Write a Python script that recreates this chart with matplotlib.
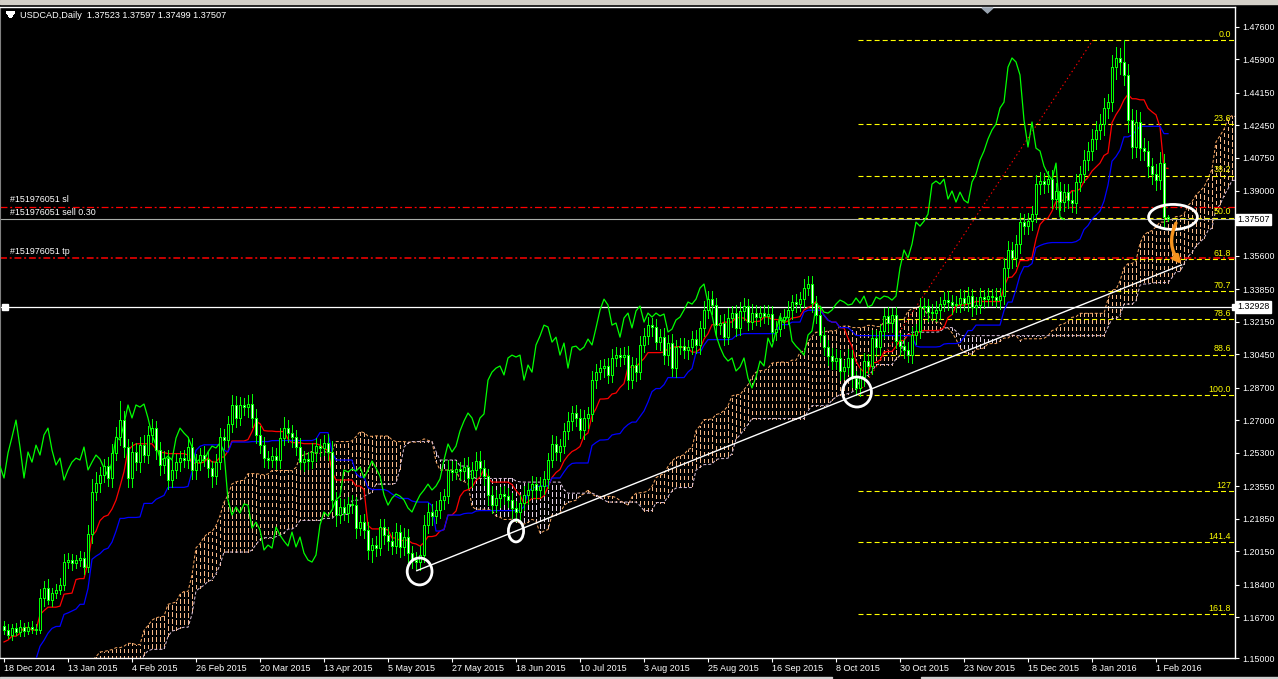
import numpy as np
import pandas as pd
import matplotlib
matplotlib.use("Agg")
import matplotlib.pyplot as plt
from matplotlib.patches import Ellipse, FancyArrowPatch, Polygon, Rectangle

plt.rcParams['font.family'] = ['Liberation Sans', 'DejaVu Sans']
plt.rcParams['lines.scale_dashes'] = False

# ---- daily closes, 18 Dec 2014 .. 3 Feb 2016 ----
close = [
    1.1602, 1.1576, 1.1613, 1.1592, 1.1618, 1.1597, 1.1618, 1.1607, 1.1602, 1.1770, 1.1822, 1.1759, 1.1796, 1.1812, 1.1838, 1.1958,
    1.1969, 1.1953, 1.1969, 1.1979, 1.1932, 1.2105, 1.2324, 1.2372, 1.2413, 1.2460, 1.2398, 1.2529, 1.2612, 1.2701, 1.2560, 1.2398,
    1.2534, 1.2481, 1.2570, 1.2518, 1.2623, 1.2659, 1.2544, 1.2466, 1.2502, 1.2387, 1.2440, 1.2481, 1.2502, 1.2492, 1.2560, 1.2440,
    1.2481, 1.2518, 1.2497, 1.2450, 1.2408, 1.2481, 1.2612, 1.2597, 1.2680, 1.2780, 1.2712, 1.2780, 1.2769, 1.2785, 1.2712, 1.2623,
    1.2570, 1.2502, 1.2492, 1.2513, 1.2492, 1.2607, 1.2659, 1.2633, 1.2612, 1.2560, 1.2481, 1.2497, 1.2487, 1.2534, 1.2565, 1.2555,
    1.2581, 1.2534, 1.2283, 1.2204, 1.2246, 1.2215, 1.2262, 1.2256, 1.2136, 1.2167, 1.2126, 1.2021, 1.2047, 1.2031, 1.2141, 1.2099,
    1.2068, 1.2042, 1.2115, 1.2037, 1.2089, 1.2005, 1.1969, 1.1958, 1.1995, 1.2152, 1.2220, 1.2199, 1.2230, 1.2283, 1.2303, 1.2440,
    1.2429, 1.2445, 1.2434, 1.2455, 1.2398, 1.2440, 1.2487, 1.2450, 1.2408, 1.2309, 1.2256, 1.2293, 1.2314, 1.2303, 1.2283, 1.2241,
    1.2220, 1.2267, 1.2309, 1.2335, 1.2366, 1.2335, 1.2356, 1.2393, 1.2492, 1.2576, 1.2534, 1.2565, 1.2644, 1.2696, 1.2738, 1.2712,
    1.2649, 1.2712, 1.2733, 1.2910, 1.2952, 1.2973, 1.2984, 1.2937, 1.3026, 1.3041, 1.3031, 1.3041, 1.2910, 1.2989, 1.2952, 1.3094,
    1.3141, 1.3198, 1.3188, 1.3109, 1.3135, 1.3041, 1.3104, 1.2973, 1.3083, 1.3088, 1.3067, 1.3083, 1.3125, 1.3094, 1.3183, 1.3277,
    1.3334, 1.3303, 1.3198, 1.3209, 1.3135, 1.3235, 1.3261, 1.3183, 1.3272, 1.3298, 1.3214, 1.3261, 1.3240, 1.3261, 1.3246, 1.3256,
    1.3162, 1.3177, 1.3225, 1.3240, 1.3277, 1.3319, 1.3308, 1.3334, 1.3392, 1.3413, 1.3313, 1.3251, 1.3146, 1.3083, 1.3036, 1.3010,
    1.3026, 1.2958, 1.2979, 1.3026, 1.2921, 1.2869, 1.2926, 1.3010, 1.2984, 1.3130, 1.3083, 1.3167, 1.3246, 1.3209, 1.3251, 1.3115,
    1.3088, 1.3067, 1.3041, 1.3146, 1.3167, 1.3293, 1.3298, 1.3266, 1.3261, 1.3277, 1.3308, 1.3329, 1.3319, 1.3303, 1.3308, 1.3340,
    1.3313, 1.3350, 1.3293, 1.3303, 1.3345, 1.3334, 1.3350, 1.3345, 1.3329, 1.3350, 1.3497, 1.3591, 1.3549, 1.3622, 1.3737, 1.3716,
    1.3742, 1.3779, 1.3936, 1.3952, 1.3936, 1.3962, 1.3858, 1.3900, 1.3842, 1.3894, 1.3852, 1.3837, 1.3947, 1.3988, 1.4062, 1.4109,
    1.4172, 1.4219, 1.4250, 1.4334, 1.4365, 1.4548, 1.4596, 1.4575, 1.4507, 1.4271, 1.4130, 1.4261, 1.4124, 1.4109, 1.4030, 1.3988,
    1.3957, 1.4046, 1.3765, 1.37507,
]
first_open = 1.1625

# wick lengths in pips above / below the body
upper_wick = [
    25, 30, 20, 25, 35, 20, 25, 30, 25, 45, 35, 50, 25, 30, 35, 40,
    35, 30, 25, 35, 30, 45, 70, 55, 40, 35, 50, 45, 55, 100, 45, 40,
    50, 45, 40, 55, 45, 50, 35, 40, 35, 45, 50, 40, 35, 40, 50, 45,
    40, 35, 45, 40, 35, 45, 50, 40, 45, 50, 45, 40, 35, 45, 50, 45,
    45, 40, 35, 45, 40, 50, 60, 45, 40, 35, 45, 40, 35, 45, 40, 35,
    40, 45, 55, 40, 45, 40, 35, 45, 40, 35, 45, 40, 35, 50, 40, 45,
    40, 45, 50, 35, 45, 40, 35, 40, 45, 50, 45, 40, 45, 40, 35, 50,
    45, 40, 35, 50, 55, 40, 45, 50, 40, 35, 45, 40, 35, 40, 45, 35,
    35, 40, 45, 35, 40, 35, 45, 40, 35, 45, 40, 35, 40, 45, 35, 40,
    45, 40, 35, 50, 40, 45, 35, 40, 45, 40, 35, 45, 50, 40, 35, 45,
    40, 45, 35, 40, 45, 50, 40, 45, 35, 40, 45, 35, 40, 45, 35, 45,
    45, 40, 35, 40, 45, 50, 35, 40, 45, 40, 35, 45, 40, 35, 40, 45,
    40, 45, 35, 40, 45, 35, 40, 35, 45, 44, 40, 35, 45, 40, 35, 40,
    45, 40, 35, 45, 40, 35, 45, 40, 35, 45, 40, 35, 40, 45, 35, 40,
    40, 35, 45, 40, 35, 45, 40, 35, 40, 45, 35, 40, 45, 35, 40, 45,
    40, 45, 35, 40, 45, 35, 40, 35, 45, 40, 50, 45, 40, 45, 50, 40,
    45, 40, 50, 45, 40, 45, 50, 40, 45, 40, 45, 50, 40, 45, 50, 45,
    50, 45, 55, 50, 45, 65, 55, 50, 115, 55, 60, 65, 50, 55, 50, 45,
    55, 60, 50, 9,
]
lower_wick = [
    20, 15, 25, 15, 20, 25, 15, 20, 20, 15, 40, 20, 30, 25, 20, 25,
    30, 35, 25, 30, 35, 25, 45, 40, 45, 35, 40, 45, 35, 40, 50, 45,
    45, 40, 50, 35, 40, 35, 45, 50, 40, 45, 35, 40, 45, 35, 40, 45,
    45, 40, 35, 45, 55, 40, 35, 45, 35, 40, 45, 35, 40, 50, 45, 40,
    40, 45, 40, 35, 45, 40, 35, 45, 50, 40, 35, 45, 40, 35, 45, 40,
    35, 40, 45, 55, 40, 35, 45, 40, 50, 35, 40, 45, 65, 40, 35, 45,
    45, 40, 35, 50, 40, 45, 40, 38, 40, 35, 40, 45, 35, 40, 45, 35,
    40, 35, 45, 40, 50, 45, 35, 40, 45, 50, 40, 35, 45, 40, 35, 50,
    45, 40, 35, 45, 40, 45, 35, 40, 45, 35, 40, 45, 35, 40, 45, 40,
    40, 45, 50, 35, 40, 35, 45, 40, 35, 40, 45, 35, 45, 40, 45, 35,
    35, 40, 45, 35, 40, 45, 50, 40, 45, 35, 40, 45, 35, 40, 45, 40,
    40, 45, 50, 45, 40, 35, 45, 40, 35, 45, 40, 35, 40, 45, 35, 40,
    45, 40, 35, 40, 35, 45, 40, 35, 40, 35, 45, 40, 35, 40, 45, 40,
    40, 45, 40, 35, 45, 37, 40, 45, 35, 40, 45, 40, 35, 40, 45, 35,
    45, 40, 35, 40, 45, 35, 40, 45, 35, 40, 45, 35, 40, 45, 35, 40,
    35, 40, 45, 35, 40, 45, 35, 40, 35, 45, 40, 45, 50, 40, 45, 40,
    40, 45, 40, 50, 45, 40, 45, 50, 40, 45, 40, 45, 50, 45, 40, 50,
    45, 50, 45, 55, 50, 45, 60, 65, 50, 65, 55, 50, 60, 45, 55, 50,
    50, 45, 55, 8,
]

# Oct-Dec 2014 highs / lows before the first visible bar (feed the Ichimoku)
prior_high = [
    1.1230, 1.1260, 1.1240, 1.1200, 1.1190, 1.1200, 1.1250, 1.1280, 1.1320, 1.1350, 1.1330, 1.1310, 1.1290, 1.1280,
    1.1290, 1.1260, 1.1230, 1.1220, 1.1200, 1.1230, 1.1260, 1.1290, 1.1380, 1.1430, 1.1450, 1.1466, 1.1430, 1.1370,
    1.1380, 1.1390, 1.1370, 1.1350, 1.1330, 1.1310, 1.1320, 1.1340, 1.1320, 1.1290, 1.1310, 1.1300, 1.1330, 1.1440,
    1.1450, 1.1430, 1.1470, 1.1470, 1.1450, 1.1470, 1.1500, 1.1540, 1.1540, 1.1590, 1.1630, 1.1680, 1.1640,
]
prior_low = [
    1.1170, 1.1190, 1.1160, 1.1140, 1.1110, 1.1120, 1.1170, 1.1200, 1.1250, 1.1240, 1.1250, 1.1250, 1.1220, 1.1210,
    1.1220, 1.1190, 1.1170, 1.1160, 1.1130, 1.1140, 1.1190, 1.1200, 1.1270, 1.1350, 1.1380, 1.1390, 1.1290, 1.1290,
    1.1310, 1.1320, 1.1300, 1.1280, 1.1270, 1.1250, 1.1260, 1.1270, 1.1230, 1.1220, 1.1220, 1.1220, 1.1240, 1.1300,
    1.1350, 1.1370, 1.1390, 1.1370, 1.1380, 1.1400, 1.1420, 1.1460, 1.1460, 1.1490, 1.1560, 1.1580, 1.1570,
]

date_labels = ["18 Dec 2014", "13 Jan 2015", "4 Feb 2015", "26 Feb 2015", "20 Mar 2015", "13 Apr 2015",
               "5 May 2015", "27 May 2015", "18 Jun 2015", "10 Jul 2015", "3 Aug 2015", "25 Aug 2015",
               "16 Sep 2015", "8 Oct 2015", "30 Oct 2015", "23 Nov 2015", "15 Dec 2015", "8 Jan 2016",
               "1 Feb 2016"]
price_ticks = [1.47600, 1.45900, 1.44150, 1.42450, 1.40750, 1.39000, 1.35600, 1.33850, 1.32150,
               1.30450, 1.28700, 1.27000, 1.25300, 1.23550, 1.21850, 1.20150, 1.18400, 1.16700]
bottom_tick_label = "1.15000"

fib_levels = [0.0, 23.6, 38.2, 50.0, 61.8, 70.7, 78.6, 88.6, 100.0, 127.0, 141.4, 161.8]
fib_names = ["0.0", "23.6", "38.2", "50.0", "61.8", "70.7", "78.6", "88.6", "100.0", "127", "141.4", "161.8"]
fib_low_bar, fib_high_bar, fib_end_bar = 213, 280, 272.25

sl_price, order_price, tp_price = 1.3818, 1.37507, 1.3548
hline_price = 1.32928
trend_from = (103.2, 1.1913)
trend_to = (294.4, 1.3513)
# marked spots: (bar, price, width in bars, height in price)
rings = [(103.9, 1.1909, 6.2, 0.0141), (128.0, 1.2121, 3.8, 0.0115),
         (213.25, 1.2848, 7.2, 0.0157), (292.25, 1.3764, 12.2, 0.0131)]
arrow_from = (293.3, 1.3745)
arrow_to = (294.8, 1.3507)

# ---- derived series ----
c = np.array(close)
o = np.r_[first_open, c[:-1]]
h = np.maximum(o, c) + np.array(upper_wick) / 1e4
l = np.minimum(o, c) - np.array(lower_wick) / 1e4
n = len(c)
P = len(prior_high)
x = np.arange(n)

H = pd.Series(np.r_[prior_high, h])
L = pd.Series(np.r_[prior_low, l])
tenkan = (H.rolling(9, min_periods=1).max() + L.rolling(9, min_periods=1).min()) / 2
kijun = (H.rolling(26, min_periods=1).max() + L.rolling(26, min_periods=1).min()) / 2
span_a = ((tenkan + kijun) / 2).values
span_b = ((H.rolling(52, min_periods=1).max() + L.rolling(52, min_periods=1).min()) / 2).values
span_x = np.arange(-P, n) + 26

W, Hh = 1278, 679
x_lo, x_hi = -1.0, 307.75
y_lo, y_hi = 1.14560, 1.48627

fig = plt.figure(figsize=(W / 100, Hh / 100), dpi=100, facecolor="black")
ax = fig.add_axes([0, 21 / Hh, 1235 / W, 651 / Hh])
ax.set_facecolor("black")
ax.set_xlim(x_lo, x_hi)
ax.set_ylim(y_lo, y_hi)

# cloud hatching (dotted verticals, phase aligned to the pixel grid)
on, off = 2.16, 2.16
vis = (span_x >= x_lo) & (span_x <= x_hi + 1)
for sx, a, b in zip(span_x[vis], span_a[vis], span_b[vis]):
    lo_, hi_ = min(a, b), max(a, b)
    col = "#f6b888" if a >= b else "#e2d0e2"
    ypx = ax.transData.transform((sx, lo_))[1] * 0.72
    ax.plot([sx, sx], [lo_, hi_], color=col, lw=0.5, ls=(ypx % (on + off), (on, off)),
            antialiased=False, zorder=1)
ax.plot(span_x[vis], span_a[vis], color="#f4a460", lw=0.72, ls=(0, (2.2, 1.4)), zorder=1)
ax.plot(span_x[vis], span_b[vis], color="#d8bfd8", lw=0.72, ls=(0, (2.2, 1.4)), zorder=1)

# fibonacci
fib_lo = l[fib_low_bar]
fib_hi = h[fib_high_bar]
for lev, name in zip(fib_levels, fib_names):
    p = fib_hi - lev / 100 * (fib_hi - fib_lo)
    ax.plot([fib_low_bar + 0.4, x_hi - 0.3], [p, p], color="#ffff00", lw=0.8, ls=(0, (3.6, 2.2)), zorder=2)
    ax.text(x_hi - 1.0, p + 0.0006, name, color="#ffff00", fontsize=6.4, ha="right", va="bottom", zorder=6)
ax.plot([fib_low_bar + 0.4, fib_end_bar], [fib_lo, fib_hi], color="#ff0000", lw=0.8, ls=(0, (1, 2)), zorder=2)

# order lines
ax.axhline(sl_price, color="#ff0000", lw=0.9, ls=(0, (5, 2, 1.4, 2)), zorder=2)
ax.axhline(tp_price, color="#ff0000", lw=1.1, ls=(0, (5, 2, 1.4, 2)), zorder=2)
ax.axhline(order_price, color="#a8aca8", lw=0.8, zorder=2)
ax.text(1.5, sl_price + 0.0012, "#151976051 sl", color="white", fontsize=6.4, va="bottom")
ax.text(1.5, order_price + 0.0012, "#151976051 sell 0.30", color="white", fontsize=6.4, va="bottom")
ax.text(1.5, tp_price + 0.0012, "#151976051 tp", color="white", fontsize=6.4, va="bottom")

ax.axhline(hline_price, color="white", lw=0.9, zorder=2)
ax.plot([0.25, x_hi], [hline_price, hline_price], ls="none", marker="s", ms=4, color="white", zorder=7, clip_on=False)

# trend line
ax.plot([trend_from[0], trend_to[0]], [trend_from[1], trend_to[1]], color="white", lw=1.0, zorder=5)

# ichimoku lines
ax.plot(x, tenkan.values[P:], color="#ff0000", lw=0.9, zorder=3)
ax.plot(x, kijun.values[P:], color="#0000ff", lw=0.9, zorder=3)
ax.plot(x - 26, c, color="#00ff00", lw=0.9, zorder=3)

# candles
ax.vlines(x, l, h, color="#00ff00", lw=0.72, antialiased=False, zorder=4)
bull = c >= o
body_lo = np.minimum(o, c)
body_h = np.maximum(np.abs(c - o), 0.0002)
ax.bar(x, body_h, bottom=body_lo, width=0.5, color=np.where(bull, "black", "white"),
       edgecolor="#00ff00", linewidth=0.72, antialiased=False, zorder=4)

# annotations
for bx, py, bw, bh in rings:
    ax.add_patch(Ellipse((bx, py), bw, bh, fill=False, ec="white", lw=2.0, zorder=8))
ax.add_patch(FancyArrowPatch(arrow_from, arrow_to, connectionstyle="arc3,rad=0.35",
                             arrowstyle="-|>", mutation_scale=11, color="#f7931e", lw=2.4, zorder=9))

# axes styling
for side in ["top", "right", "bottom"]:
    ax.spines[side].set_color("white")
    ax.spines[side].set_linewidth(1.0)
ax.spines["left"].set_color("#808080")
ax.yaxis.tick_right()
ax.set_yticks(price_ticks + [y_lo], ["%.5f" % t for t in price_ticks] + [bottom_tick_label])
ax.tick_params(axis="y", colors="white", labelsize=6.4, length=3, width=0.8, pad=2, direction="out")
ax.set_xticks(np.arange(len(date_labels)) * 16, date_labels)
ax.tick_params(axis="x", colors="white", labelsize=6.5, length=3, width=0.8, pad=1, direction="out")
for lbl in ax.get_xticklabels():
    lbl.set_ha("left")

# price boxes on the scale
for yv, txt in [(order_price, "1.37507"), (hline_price, "1.32928")]:
    fy = ax.transData.transform((0, yv))[1] / Hh
    fig.text(1237 / W, fy, txt, color="black", fontsize=6.4, va="center", ha="left",
             bbox=dict(boxstyle="square,pad=0.15", fc="white", ec="white"), zorder=10)

# window frame bits
fig.patches.append(Rectangle((0, 1 - 4 / Hh), 1, 4 / Hh, transform=fig.transFigure, color="#d4d0c8"))
fig.patches.append(Polygon([[982 / W, 1 - 8 / Hh], [993 / W, 1 - 8 / Hh], [987.5 / W, 1 - 13 / Hh]],
                           closed=True, transform=fig.transFigure, color="#9aa4b0"))
fig.patches.append(Rectangle((0, 1 / Hh), 832 / W, 1.5 / Hh, transform=fig.transFigure, color="#d0d0d0"))
fig.patches.append(Rectangle((921 / W, 1 / Hh), 357 / W, 1.5 / Hh, transform=fig.transFigure, color="#d0d0d0"))
fig.patches.append(Polygon([[7 / W, 1 - 12 / Hh], [14 / W, 1 - 12 / Hh], [10.5 / W, 1 - 17 / Hh]],
                           closed=True, transform=fig.transFigure, color="white", antialiased=False))
fig.text(20 / W, 1 - 15 / Hh, "USDCAD,Daily  1.37523 1.37597 1.37499 1.37507", color="white",
         fontsize=6.6, va="center", ha="left")

fig.savefig("out.png", dpi=100, facecolor="black")
